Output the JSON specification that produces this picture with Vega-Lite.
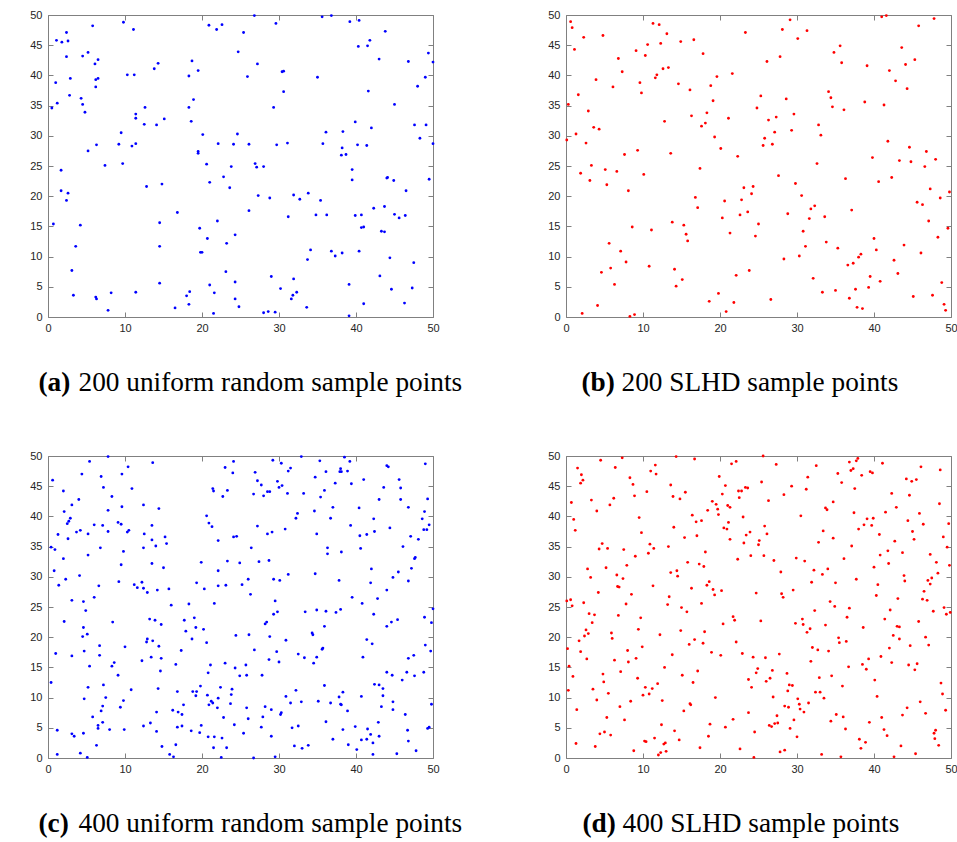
{
"$schema": "https://vega.github.io/schema/vega-lite/v6.json",
"background": "white",
"padding": {"left": 29, "top": 8, "right": 0, "bottom": 2},
"config": {
 "view": {"stroke": "#808080", "strokeWidth": 1},
 "axis": {"domain": false, "grid": false, "tickColor": "#808080", "tickSize": -5, "tickWidth": 1,
  "labelFont": "Liberation Sans", "labelFontSize": 11, "labelColor": "#262626", "labelFlush": false, "labelOverlap": false,
  "titleFont": "Liberation Serif", "titleFontSize": 27.3, "titleFontWeight": "normal", "titleColor": "black",
  "titleAlign": "left", "titleBaseline": "alphabetic", "titleAngle": 0},
 "axisX": {"labelPadding": 10},
 "axisY": {"labelPadding": 11}
},
"datasets": {
"a": [
{"x":0.5,"y":34.6},{"x":1.0,"y":38.8},{"x":1.1,"y":45.8},{"x":1.2,"y":35.4},{"x":1.8,"y":45.5},{"x":2.4,"y":47.1},{"x":2.4,"y":43.1},{"x":2.6,"y":45.7},{"x":2.8,"y":36.7},{"x":2.9,"y":39.5},{"x":4.3,"y":36.2},{"x":4.5,"y":43.2},{"x":4.5,"y":35.2},{"x":4.8,"y":33.9},{"x":5.2,"y":43.8},{"x":5.8,"y":48.2},{"x":6.1,"y":41.9},{"x":6.2,"y":39.3},{"x":6.2,"y":38.1},{"x":6.5,"y":42.6},{"x":6.5,"y":39.5},{"x":9.8,"y":48.8},{"x":10.3,"y":40.1},{"x":11.1,"y":47.6},{"x":11.2,"y":40.1},{"x":11.4,"y":33.6},{"x":12.6,"y":34.7},{"x":13.8,"y":41.1},{"x":14.3,"y":42.0},{"x":18.3,"y":39.9},{"x":18.3,"y":34.7},{"x":18.7,"y":42.4},{"x":18.9,"y":36.0},{"x":19.5,"y":40.8},{"x":20.9,"y":48.3},{"x":21.9,"y":47.6},{"x":22.6,"y":48.4},{"x":24.7,"y":43.9},{"x":25.4,"y":47.1},{"x":25.9,"y":39.8},{"x":26.8,"y":49.9},{"x":27.2,"y":41.9},{"x":29.3,"y":34.7},{"x":29.6,"y":48.6},{"x":30.4,"y":40.6},{"x":30.6,"y":40.7},{"x":30.6,"y":37.3},{"x":35.0,"y":39.7},{"x":35.6,"y":49.7},{"x":36.8,"y":49.9},{"x":39.2,"y":48.9},{"x":40.3,"y":44.8},{"x":40.4,"y":49.1},{"x":41.5,"y":44.9},{"x":41.6,"y":37.4},{"x":41.8,"y":45.8},{"x":43.0,"y":42.7},{"x":43.8,"y":47.3},{"x":45.0,"y":35.2},{"x":46.8,"y":42.3},{"x":48.0,"y":38.2},{"x":49.0,"y":39.7},{"x":49.4,"y":43.7},{"x":50.0,"y":42.2},
{"x":1.7,"y":24.3},{"x":1.7,"y":20.9},{"x":2.4,"y":19.3},{"x":2.6,"y":20.5},{"x":5.2,"y":27.5},{"x":6.3,"y":28.5},{"x":7.4,"y":25.1},{"x":9.2,"y":28.6},{"x":9.5,"y":30.5},{"x":9.7,"y":25.4},{"x":10.9,"y":28.3},{"x":11.4,"y":32.9},{"x":11.4,"y":28.7},{"x":12.5,"y":31.9},{"x":12.8,"y":21.6},{"x":14.1,"y":31.8},{"x":14.8,"y":22.0},{"x":15.1,"y":32.8},{"x":16.8,"y":17.3},{"x":18.6,"y":32.4},{"x":19.5,"y":27.4},{"x":19.5,"y":27.1},{"x":20.1,"y":30.2},{"x":20.6,"y":25.3},{"x":21.0,"y":22.3},{"x":22.1,"y":28.7},{"x":22.8,"y":23.2},{"x":23.6,"y":21.4},{"x":23.8,"y":24.9},{"x":24.1,"y":28.6},{"x":24.6,"y":30.3},{"x":26.1,"y":28.6},{"x":26.1,"y":17.6},{"x":26.9,"y":25.4},{"x":27.1,"y":24.8},{"x":27.3,"y":20.1},{"x":28.0,"y":24.9},{"x":28.8,"y":19.7},{"x":29.7,"y":28.5},{"x":31.1,"y":28.8},{"x":31.2,"y":16.6},{"x":31.9,"y":20.2},{"x":32.7,"y":19.5},{"x":33.8,"y":20.5},{"x":34.8,"y":16.9},{"x":35.4,"y":19.3},{"x":35.7,"y":28.7},{"x":36.1,"y":30.6},{"x":36.2,"y":16.9},{"x":38.1,"y":26.8},{"x":38.2,"y":28.0},{"x":38.3,"y":30.7},{"x":38.7,"y":26.9},{"x":39.5,"y":24.4},{"x":39.5,"y":22.7},{"x":39.9,"y":16.8},{"x":39.9,"y":32.3},{"x":40.2,"y":28.5},{"x":40.7,"y":16.9},{"x":41.4,"y":28.4},{"x":42.0,"y":31.3},{"x":42.3,"y":18.0},{"x":43.7,"y":18.3},{"x":44.0,"y":23.0},{"x":44.1,"y":23.1},{"x":44.9,"y":22.6},{"x":45.0,"y":17.0},{"x":45.6,"y":16.4},{"x":46.4,"y":16.8},{"x":46.5,"y":20.9},{"x":47.6,"y":31.8},{"x":48.3,"y":29.6},{"x":49.1,"y":31.8},{"x":49.5,"y":22.8},{"x":50.0,"y":28.7},
{"x":0.7,"y":15.4},{"x":3.1,"y":7.7},{"x":3.3,"y":3.6},{"x":3.6,"y":11.7},{"x":4.2,"y":15.2},{"x":6.2,"y":3.3},{"x":6.3,"y":3.0},{"x":7.8,"y":1.1},{"x":8.2,"y":4.0},{"x":11.4,"y":4.1},{"x":14.5,"y":15.6},{"x":14.5,"y":11.7},{"x":14.5,"y":5.6},{"x":16.5,"y":1.5},{"x":18.0,"y":3.5},{"x":18.3,"y":2.1},{"x":18.4,"y":4.2},{"x":19.7,"y":14.7},{"x":19.8,"y":10.7},{"x":20.0,"y":10.7},{"x":20.7,"y":13.0},{"x":21.0,"y":5.3},{"x":21.5,"y":0.6},{"x":21.6,"y":4.0},{"x":22.0,"y":15.9},{"x":23.1,"y":7.5},{"x":23.2,"y":12.2},{"x":24.3,"y":13.6},{"x":24.3,"y":5.8},{"x":24.3,"y":3.0},{"x":24.8,"y":1.7},{"x":28.0,"y":0.7},{"x":28.6,"y":0.9},{"x":29.0,"y":6.7},{"x":29.5,"y":0.8},{"x":30.2,"y":4.7},{"x":31.6,"y":3.0},{"x":31.8,"y":3.6},{"x":31.9,"y":6.3},{"x":32.3,"y":4.1},{"x":33.6,"y":1.6},{"x":33.7,"y":9.5},{"x":34.1,"y":11.1},{"x":36.8,"y":10.9},{"x":37.3,"y":10.1},{"x":38.2,"y":10.6},{"x":39.1,"y":0.2},{"x":39.1,"y":5.4},{"x":40.4,"y":10.9},{"x":40.7,"y":14.8},{"x":41.0,"y":14.9},{"x":41.0,"y":2.2},{"x":43.1,"y":6.8},{"x":43.3,"y":14.2},{"x":43.7,"y":14.1},{"x":44.4,"y":9.8},{"x":44.6,"y":4.6},{"x":46.3,"y":2.3},{"x":47.3,"y":4.8},{"x":47.5,"y":9.0}
],
"b": [
{"x":0.3,"y":35.2},{"x":0.6,"y":48.9},{"x":0.8,"y":47.9},{"x":1.1,"y":44.3},{"x":1.6,"y":36.8},{"x":2.3,"y":46.3},{"x":2.9,"y":34.1},{"x":3.9,"y":39.3},{"x":4.8,"y":46.6},{"x":6.1,"y":38.1},{"x":6.8,"y":42.8},{"x":7.3,"y":40.6},{"x":9.1,"y":44.1},{"x":9.6,"y":38.8},{"x":9.8,"y":37.1},{"x":10.3,"y":43.3},{"x":10.6,"y":45.1},{"x":11.3,"y":48.6},{"x":11.6,"y":39.6},{"x":11.8,"y":40.1},{"x":12.1,"y":48.4},{"x":12.3,"y":45.3},{"x":12.6,"y":41.1},{"x":13.1,"y":46.9},{"x":13.3,"y":41.3},{"x":14.6,"y":38.6},{"x":14.9,"y":45.6},{"x":16.1,"y":37.6},{"x":16.3,"y":33.3},{"x":16.6,"y":45.9},{"x":17.8,"y":43.6},{"x":18.3,"y":33.8},{"x":18.8,"y":38.3},{"x":19.1,"y":35.8},{"x":19.6,"y":39.8},{"x":21.6,"y":40.3},{"x":23.3,"y":47.1},{"x":24.8,"y":34.6},{"x":25.3,"y":36.6},{"x":26.1,"y":42.3},{"x":27.3,"y":33.1},{"x":27.8,"y":43.1},{"x":28.1,"y":47.6},{"x":28.6,"y":36.1},{"x":29.1,"y":49.2},{"x":29.6,"y":33.6},{"x":30.1,"y":46.1},{"x":31.3,"y":47.4},{"x":34.1,"y":37.3},{"x":34.4,"y":36.3},{"x":34.6,"y":34.8},{"x":34.8,"y":43.8},{"x":35.6,"y":44.9},{"x":35.8,"y":42.1},{"x":36.1,"y":34.3},{"x":38.8,"y":35.6},{"x":39.1,"y":41.6},{"x":41.0,"y":49.7},{"x":41.3,"y":35.1},{"x":41.6,"y":49.9},{"x":42.0,"y":40.8},{"x":42.8,"y":39.1},{"x":43.6,"y":44.6},{"x":44.1,"y":41.8},{"x":44.3,"y":37.8},{"x":45.3,"y":42.6},{"x":45.8,"y":48.2},{"x":47.8,"y":49.4},
{"x":0.1,"y":29.3},{"x":1.3,"y":30.3},{"x":1.9,"y":23.8},{"x":2.6,"y":28.8},{"x":3.1,"y":22.6},{"x":3.3,"y":25.1},{"x":3.6,"y":31.4},{"x":4.3,"y":31.1},{"x":5.1,"y":24.4},{"x":5.3,"y":21.9},{"x":6.6,"y":24.1},{"x":7.6,"y":26.9},{"x":8.1,"y":20.9},{"x":9.3,"y":27.6},{"x":10.1,"y":23.6},{"x":12.8,"y":32.4},{"x":13.6,"y":27.1},{"x":16.8,"y":19.8},{"x":17.1,"y":18.1},{"x":17.4,"y":24.6},{"x":17.6,"y":31.6},{"x":18.1,"y":32.1},{"x":19.3,"y":29.8},{"x":20.1,"y":27.9},{"x":20.3,"y":16.4},{"x":20.6,"y":19.2},{"x":21.1,"y":32.9},{"x":22.3,"y":26.6},{"x":22.6,"y":16.9},{"x":22.8,"y":19.4},{"x":23.1,"y":21.4},{"x":23.6,"y":17.4},{"x":24.1,"y":20.4},{"x":24.3,"y":21.6},{"x":25.6,"y":28.4},{"x":25.8,"y":29.6},{"x":26.3,"y":32.6},{"x":26.8,"y":28.6},{"x":27.1,"y":30.6},{"x":27.6,"y":23.4},{"x":28.8,"y":17.1},{"x":29.3,"y":30.9},{"x":29.8,"y":22.1},{"x":30.6,"y":20.1},{"x":31.6,"y":16.3},{"x":31.8,"y":17.9},{"x":32.3,"y":18.4},{"x":32.6,"y":25.4},{"x":32.8,"y":31.8},{"x":33.1,"y":30.1},{"x":33.6,"y":16.6},{"x":36.3,"y":22.9},{"x":37.1,"y":17.7},{"x":39.8,"y":26.4},{"x":40.6,"y":22.4},{"x":41.8,"y":29.1},{"x":42.3,"y":23.1},{"x":43.3,"y":25.9},{"x":44.6,"y":28.1},{"x":44.8,"y":25.7},{"x":45.6,"y":19.0},{"x":46.3,"y":18.6},{"x":46.6,"y":24.9},{"x":46.8,"y":27.4},{"x":47.3,"y":21.2},{"x":48.0,"y":26.1},{"x":48.6,"y":19.7},{"x":49.8,"y":20.7},
{"x":2.1,"y":0.6},{"x":4.1,"y":1.9},{"x":4.6,"y":7.4},{"x":5.6,"y":12.2},{"x":5.8,"y":8.1},{"x":6.3,"y":5.4},{"x":7.1,"y":10.9},{"x":7.8,"y":9.1},{"x":8.3,"y":0.1},{"x":8.6,"y":14.9},{"x":8.9,"y":0.4},{"x":10.8,"y":8.4},{"x":11.1,"y":14.4},{"x":13.8,"y":15.7},{"x":14.1,"y":7.9},{"x":14.3,"y":5.1},{"x":15.1,"y":6.2},{"x":15.3,"y":15.2},{"x":15.6,"y":13.7},{"x":15.8,"y":12.6},{"x":18.6,"y":2.6},{"x":19.8,"y":3.9},{"x":20.8,"y":0.9},{"x":21.3,"y":13.9},{"x":21.8,"y":2.4},{"x":22.1,"y":6.9},{"x":23.8,"y":7.7},{"x":24.6,"y":13.4},{"x":25.0,"y":15.4},{"x":26.6,"y":2.9},{"x":28.3,"y":9.6},{"x":30.3,"y":10.1},{"x":30.8,"y":14.2},{"x":31.1,"y":11.7},{"x":32.1,"y":6.4},{"x":33.3,"y":4.1},{"x":33.8,"y":12.4},{"x":35.0,"y":4.4},{"x":35.3,"y":11.4},{"x":36.6,"y":8.6},{"x":36.8,"y":3.1},{"x":37.3,"y":8.9},{"x":37.6,"y":4.6},{"x":37.8,"y":1.6},{"x":38.0,"y":9.9},{"x":38.3,"y":10.4},{"x":38.5,"y":1.4},{"x":39.3,"y":4.9},{"x":39.5,"y":6.7},{"x":40.0,"y":13.0},{"x":40.3,"y":11.1},{"x":40.8,"y":5.9},{"x":42.6,"y":9.4},{"x":43.1,"y":7.2},{"x":43.9,"y":11.9},{"x":45.1,"y":3.4},{"x":46.1,"y":10.6},{"x":47.1,"y":15.9},{"x":47.6,"y":3.6},{"x":48.3,"y":13.2},{"x":48.8,"y":5.7},{"x":49.1,"y":2.1},{"x":49.3,"y":1.1},{"x":49.6,"y":14.7}
],
"c": [
{"x":0.4,"y":34.9},{"x":0.6,"y":46.0},{"x":0.9,"y":34.5},{"x":1.3,"y":37.0},{"x":2.0,"y":44.2},{"x":2.1,"y":40.8},{"x":2.5,"y":38.8},{"x":2.7,"y":39.2},{"x":2.9,"y":39.7},{"x":2.6,"y":36.3},{"x":3.1,"y":41.9},{"x":3.7,"y":37.4},{"x":4.0,"y":42.8},{"x":4.2,"y":37.7},{"x":4.4,"y":47.0},{"x":5.2,"y":37.1},{"x":5.2,"y":33.6},{"x":5.4,"y":49.1},{"x":6.0,"y":38.6},{"x":6.8,"y":34.8},{"x":6.9,"y":46.6},{"x":7.1,"y":38.5},{"x":7.2,"y":44.8},{"x":7.8,"y":41.0},{"x":7.8,"y":37.5},{"x":7.8,"y":49.9},{"x":8.3,"y":43.3},{"x":9.1,"y":39.0},{"x":9.5,"y":38.7},{"x":9.6,"y":41.6},{"x":9.6,"y":47.0},{"x":9.8,"y":34.2},{"x":10.3,"y":37.4},{"x":10.5,"y":37.7},{"x":10.4,"y":48.2},{"x":10.9,"y":44.6},{"x":12.4,"y":41.9},{"x":12.4,"y":34.8},{"x":12.5,"y":37.1},{"x":13.5,"y":38.5},{"x":13.5,"y":36.1},{"x":13.6,"y":48.9},{"x":14.0,"y":35.1},{"x":14.4,"y":41.3},{"x":15.2,"y":36.6},{"x":15.4,"y":35.5},{"x":20.6,"y":40.1},{"x":20.9,"y":38.9},{"x":21.3,"y":38.3},{"x":21.4,"y":44.6},{"x":21.5,"y":44.2},{"x":22.1,"y":36.0},{"x":22.7,"y":43.3},{"x":23.0,"y":48.1},{"x":23.3,"y":44.3},{"x":24.0,"y":47.2},{"x":24.1,"y":49.1},{"x":24.1,"y":36.6},{"x":24.5,"y":36.7},{"x":26.4,"y":34.8},{"x":26.7,"y":43.7},{"x":26.9,"y":47.3},{"x":27.2,"y":38.4},{"x":27.2,"y":45.9},{"x":27.7,"y":45.2},{"x":28.0,"y":43.4},{"x":28.5,"y":44.1},{"x":28.8,"y":44.1},{"x":28.5,"y":37.1},{"x":29.1,"y":37.4},{"x":29.2,"y":49.3},{"x":29.8,"y":45.8},{"x":30.0,"y":44.8},{"x":30.3,"y":48.8},{"x":30.4,"y":45.1},{"x":30.8,"y":37.9},{"x":31.2,"y":47.5},{"x":31.1,"y":43.8},{"x":31.5,"y":48.0},{"x":32.2,"y":39.7},{"x":32.4,"y":40.5},{"x":32.9,"y":49.9},{"x":33.2,"y":43.8},{"x":34.6,"y":40.9},{"x":34.7,"y":46.5},{"x":34.9,"y":37.1},{"x":35.3,"y":49.2},{"x":35.4,"y":43.2},{"x":35.9,"y":44.3},{"x":36.1,"y":47.4},{"x":36.3,"y":34.8},{"x":36.3,"y":33.8},{"x":36.7,"y":39.7},{"x":37.0,"y":41.5},{"x":37.3,"y":45.5},{"x":37.9,"y":47.4},{"x":38.0,"y":47.9},{"x":38.1,"y":47.4},{"x":38.1,"y":34.1},{"x":38.5,"y":49.8},{"x":38.9,"y":47.5},{"x":39.2,"y":49.1},{"x":39.3,"y":38.5},{"x":39.4,"y":45.4},{"x":40.4,"y":41.4},{"x":40.5,"y":36.8},{"x":40.6,"y":34.7},{"x":41.0,"y":46.1},{"x":41.4,"y":37.0},{"x":42.3,"y":39.6},{"x":42.4,"y":37.5},{"x":43.0,"y":42.8},{"x":43.6,"y":44.8},{"x":44.0,"y":48.4},{"x":44.2,"y":48.2},{"x":44.4,"y":38.1},{"x":45.6,"y":46.1},{"x":45.8,"y":44.7},{"x":45.8,"y":42.8},{"x":46.1,"y":35.0},{"x":46.8,"y":41.5},{"x":47.1,"y":36.7},{"x":48.1,"y":36.2},{"x":48.6,"y":39.6},{"x":48.8,"y":37.8},{"x":48.9,"y":40.8},{"x":49.0,"y":48.7},{"x":49.2,"y":37.8},{"x":49.3,"y":42.9},{"x":49.5,"y":38.6},
{"x":0.8,"y":31.0},{"x":1.0,"y":17.3},{"x":1.4,"y":28.6},{"x":2.0,"y":33.0},{"x":2.1,"y":22.6},{"x":2.3,"y":29.6},{"x":3.1,"y":26.1},{"x":3.1,"y":16.9},{"x":4.1,"y":30.2},{"x":4.5,"y":20.1},{"x":4.6,"y":21.6},{"x":4.6,"y":25.9},{"x":4.7,"y":17.7},{"x":4.9,"y":24.4},{"x":5.1,"y":20.5},{"x":6.0,"y":26.6},{"x":6.6,"y":28.5},{"x":6.7,"y":18.6},{"x":6.7,"y":17.0},{"x":8.4,"y":22.5},{"x":9.2,"y":29.2},{"x":9.5,"y":32.0},{"x":10.0,"y":18.4},{"x":11.2,"y":28.7},{"x":11.6,"y":28.2},{"x":12.2,"y":29.1},{"x":12.4,"y":28.1},{"x":12.9,"y":27.4},{"x":12.8,"y":19.2},{"x":12.9,"y":19.7},{"x":13.2,"y":23.0},{"x":13.5,"y":32.2},{"x":13.4,"y":16.7},{"x":13.6,"y":19.4},{"x":13.9,"y":22.8},{"x":14.2,"y":27.8},{"x":14.4,"y":18.5},{"x":14.7,"y":22.1},{"x":14.7,"y":16.5},{"x":15.0,"y":31.5},{"x":15.7,"y":28.0},{"x":16.0,"y":25.3},{"x":17.3,"y":17.8},{"x":17.7,"y":22.8},{"x":17.9,"y":21.0},{"x":18.3,"y":25.5},{"x":18.7,"y":19.7},{"x":19.0,"y":23.2},{"x":19.2,"y":21.6},{"x":19.3,"y":29.0},{"x":19.9,"y":32.4},{"x":20.2,"y":21.3},{"x":20.3,"y":28.0},{"x":20.6,"y":19.1},{"x":21.6,"y":25.6},{"x":22.1,"y":31.0},{"x":22.1,"y":28.5},{"x":23.1,"y":28.6},{"x":23.3,"y":32.6},{"x":24.4,"y":20.3},{"x":24.9,"y":32.3},{"x":25.2,"y":28.7},{"x":26.0,"y":29.6},{"x":26.1,"y":20.4},{"x":26.3,"y":27.1},{"x":26.8,"y":17.9},{"x":27.4,"y":32.5},{"x":28.2,"y":22.2},{"x":28.4,"y":22.5},{"x":28.7,"y":32.7},{"x":28.8,"y":20.1},{"x":29.3,"y":23.8},{"x":29.3,"y":29.6},{"x":29.5,"y":26.0},{"x":29.7,"y":17.6},{"x":29.8,"y":24.2},{"x":30.1,"y":29.4},{"x":30.9,"y":19.5},{"x":31.2,"y":30.4},{"x":32.5,"y":17.2},{"x":33.3,"y":16.6},{"x":33.4,"y":24.2},{"x":34.3,"y":20.7},{"x":34.4,"y":20.4},{"x":34.7,"y":30.5},{"x":34.9,"y":24.5},{"x":34.9,"y":16.7},{"x":35.6,"y":18.0},{"x":35.7,"y":18.2},{"x":35.9,"y":21.8},{"x":36.1,"y":24.3},{"x":37.4,"y":24.1},{"x":37.8,"y":29.4},{"x":38.0,"y":24.6},{"x":39.5,"y":26.6},{"x":40.8,"y":25.6},{"x":40.9,"y":16.7},{"x":41.4,"y":19.6},{"x":41.9,"y":29.0},{"x":42.0,"y":31.3},{"x":42.1,"y":18.9},{"x":42.3,"y":23.8},{"x":42.8,"y":26.4},{"x":44.0,"y":27.8},{"x":44.0,"y":21.8},{"x":44.6,"y":22.5},{"x":44.8,"y":29.9},{"x":45.4,"y":22.9},{"x":45.5,"y":30.8},{"x":46.8,"y":29.3},{"x":46.8,"y":16.5},{"x":47.2,"y":31.4},{"x":47.5,"y":17.0},{"x":47.6,"y":33.0},{"x":47.7,"y":33.2},{"x":48.9,"y":23.3},{"x":49.0,"y":18.7},{"x":49.7,"y":17.7},{"x":49.8,"y":22.4},{"x":50.0,"y":24.7},
{"x":0.4,"y":12.5},{"x":1.2,"y":4.6},{"x":1.2,"y":0.6},{"x":3.1,"y":4.0},{"x":3.4,"y":3.6},{"x":4.2,"y":0.8},{"x":4.6,"y":4.1},{"x":4.7,"y":9.8},{"x":5.1,"y":0.1},{"x":5.2,"y":11.7},{"x":5.4,"y":15.2},{"x":5.8,"y":6.8},{"x":6.3,"y":2.1},{"x":6.5,"y":5.4},{"x":6.5,"y":4.9},{"x":6.9,"y":7.8},{"x":7.1,"y":8.6},{"x":7.1,"y":5.9},{"x":7.2,"y":12.1},{"x":7.5,"y":10.0},{"x":8.0,"y":4.7},{"x":8.3,"y":15.2},{"x":8.6,"y":15.8},{"x":9.1,"y":13.7},{"x":9.4,"y":8.4},{"x":9.8,"y":9.5},{"x":9.9,"y":4.7},{"x":10.8,"y":11.3},{"x":12.2,"y":16.1},{"x":12.4,"y":5.3},{"x":13.3,"y":5.8},{"x":14.1,"y":7.6},{"x":14.1,"y":4.4},{"x":14.3,"y":11.5},{"x":14.6,"y":14.4},{"x":14.8,"y":1.9},{"x":15.8,"y":0.6},{"x":16.2,"y":7.9},{"x":16.3,"y":0.2},{"x":16.6,"y":2.2},{"x":16.6,"y":15.5},{"x":16.8,"y":11.0},{"x":16.9,"y":7.6},{"x":16.8,"y":5.1},{"x":17.4,"y":5.3},{"x":17.4,"y":7.2},{"x":17.6,"y":8.8},{"x":18.6,"y":4.5},{"x":18.8,"y":11.0},{"x":19.2,"y":10.3},{"x":19.3,"y":11.0},{"x":19.7,"y":4.2},{"x":19.8,"y":11.9},{"x":19.9,"y":5.4},{"x":20.7,"y":10.4},{"x":20.8,"y":3.5},{"x":20.8,"y":14.1},{"x":20.9,"y":8.8},{"x":21.1,"y":15.4},{"x":21.2,"y":9.4},{"x":21.4,"y":9.1},{"x":21.5,"y":1.7},{"x":21.6,"y":3.5},{"x":22.0,"y":8.3},{"x":22.1,"y":9.9},{"x":22.4,"y":11.7},{"x":22.5,"y":0.1},{"x":22.6,"y":3.3},{"x":22.8,"y":6.7},{"x":23.0,"y":15.7},{"x":23.2,"y":1.7},{"x":23.7,"y":9.0},{"x":23.8,"y":10.5},{"x":23.9,"y":11.4},{"x":24.2,"y":5.5},{"x":24.3,"y":14.9},{"x":24.9,"y":13.6},{"x":25.4,"y":4.1},{"x":25.7,"y":15.4},{"x":25.8,"y":13.7},{"x":25.8,"y":8.3},{"x":26.0,"y":6.5},{"x":26.7,"y":0.0},{"x":27.7,"y":5.1},{"x":27.8,"y":13.7},{"x":27.9,"y":6.8},{"x":28.2,"y":8.5},{"x":28.7,"y":16.3},{"x":29.0,"y":8.0},{"x":29.0,"y":3.6},{"x":29.5,"y":0.2},{"x":30.0,"y":15.9},{"x":30.2,"y":7.2},{"x":30.3,"y":7.5},{"x":30.9,"y":10.2},{"x":31.5,"y":9.1},{"x":31.7,"y":5.0},{"x":32.0,"y":2.0},{"x":32.2,"y":11.2},{"x":32.5,"y":5.3},{"x":32.9,"y":9.3},{"x":33.0,"y":1.6},{"x":33.8,"y":2.1},{"x":34.5,"y":15.7},{"x":35.1,"y":9.4},{"x":35.9,"y":12.0},{"x":36.1,"y":6.0},{"x":36.7,"y":9.1},{"x":37.0,"y":3.1},{"x":37.8,"y":10.1},{"x":38.0,"y":8.9},{"x":38.1,"y":8.8},{"x":38.3,"y":10.9},{"x":38.3,"y":4.7},{"x":38.9,"y":7.8},{"x":39.0,"y":2.2},{"x":39.9,"y":5.2},{"x":40.1,"y":1.4},{"x":40.7,"y":3.0},{"x":40.7,"y":10.2},{"x":41.4,"y":3.1},{"x":41.5,"y":4.8},{"x":41.9,"y":3.9},{"x":42.2,"y":0.6},{"x":42.2,"y":2.5},{"x":42.4,"y":12.2},{"x":42.9,"y":5.9},{"x":43.0,"y":12.1},{"x":43.0,"y":3.6},{"x":43.3,"y":8.5},{"x":43.5,"y":11.5},{"x":43.5,"y":10.3},{"x":44.0,"y":14.2},{"x":44.7,"y":13.7},{"x":44.8,"y":9.3},{"x":44.8,"y":8.0},{"x":45.3,"y":0.7},{"x":46.0,"y":12.9},{"x":46.4,"y":7.2},{"x":46.6,"y":14.2},{"x":46.7,"y":4.6},{"x":46.8,"y":2.8},{"x":47.6,"y":13.6},{"x":47.8,"y":1.2},{"x":48.8,"y":14.2},{"x":49.3,"y":4.9},{"x":49.5,"y":5.1},{"x":49.8,"y":8.9}
],
"d": [
{"x":0.7,"y":42.3},{"x":1.0,"y":39.5},{"x":1.2,"y":37.7},{"x":1.5,"y":48.0},{"x":1.9,"y":45.5},{"x":2.0,"y":46.9},{"x":2.2,"y":46.0},{"x":3.3,"y":42.7},{"x":4.0,"y":40.9},{"x":4.3,"y":34.6},{"x":4.5,"y":49.3},{"x":4.7,"y":35.5},{"x":5.4,"y":34.7},{"x":5.7,"y":41.9},{"x":6.2,"y":43.0},{"x":6.4,"y":48.1},{"x":7.3,"y":49.7},{"x":7.5,"y":34.5},{"x":8.3,"y":46.4},{"x":8.7,"y":45.3},{"x":8.9,"y":43.4},{"x":9.0,"y":33.4},{"x":9.5,"y":39.8},{"x":9.8,"y":37.3},{"x":10.5,"y":44.1},{"x":10.7,"y":33.9},{"x":10.9,"y":35.4},{"x":11.0,"y":47.5},{"x":11.4,"y":34.7},{"x":11.6,"y":48.5},{"x":11.7,"y":47.0},{"x":13.3,"y":35.0},{"x":13.6,"y":45.2},{"x":13.9,"y":43.3},{"x":14.0,"y":38.2},{"x":14.3,"y":49.9},{"x":14.8,"y":42.9},{"x":15.4,"y":36.5},{"x":15.5,"y":44.0},{"x":16.4,"y":40.2},{"x":16.7,"y":49.5},{"x":16.9,"y":39.1},{"x":17.0,"y":36.8},{"x":17.6,"y":39.3},{"x":18.1,"y":34.1},{"x":18.4,"y":41.0},{"x":19.0,"y":42.5},{"x":19.5,"y":42.0},{"x":19.7,"y":41.2},{"x":19.8,"y":40.3},{"x":19.9,"y":46.6},{"x":20.3,"y":43.7},{"x":20.5,"y":38.1},{"x":20.7,"y":45.1},{"x":20.9,"y":37.9},{"x":21.0,"y":41.8},{"x":21.1,"y":39.0},{"x":21.3,"y":36.2},{"x":21.3,"y":41.5},{"x":21.5,"y":48.7},{"x":22.1,"y":49.1},{"x":22.4,"y":44.2},{"x":22.5,"y":43.1},{"x":22.8,"y":44.2},{"x":23.0,"y":39.9},{"x":23.1,"y":35.6},{"x":23.3,"y":44.8},{"x":23.4,"y":36.9},{"x":23.6,"y":44.7},{"x":23.9,"y":37.4},{"x":24.0,"y":33.5},{"x":25.0,"y":35.3},{"x":25.1,"y":36.0},{"x":25.4,"y":45.7},{"x":25.6,"y":50.0},{"x":25.7,"y":33.5},{"x":25.8,"y":38.4},{"x":26.1,"y":37.1},{"x":26.3,"y":42.6},{"x":27.3,"y":48.6},{"x":28.3,"y":43.6},{"x":29.3,"y":45.0},{"x":30.5,"y":40.1},{"x":31.2,"y":44.5},{"x":31.4,"y":46.5},{"x":32.5,"y":48.4},{"x":32.8,"y":35.7},{"x":33.4,"y":37.6},{"x":33.7,"y":41.4},{"x":33.9,"y":41.1},{"x":34.7,"y":42.4},{"x":34.7,"y":36.4},{"x":35.3,"y":47.1},{"x":35.8,"y":45.6},{"x":36.8,"y":49.0},{"x":37.0,"y":47.6},{"x":37.1,"y":35.1},{"x":37.3,"y":47.9},{"x":37.4,"y":40.6},{"x":37.5,"y":44.6},{"x":37.7,"y":49.2},{"x":37.9,"y":49.6},{"x":38.0,"y":37.9},{"x":38.4,"y":46.8},{"x":38.7,"y":38.6},{"x":39.1,"y":39.6},{"x":39.5,"y":47.4},{"x":39.7,"y":38.5},{"x":39.8,"y":47.2},{"x":39.9,"y":39.7},{"x":40.7,"y":37.0},{"x":40.8,"y":33.6},{"x":41.1,"y":48.8},{"x":41.5,"y":40.7},{"x":41.8,"y":34.3},{"x":42.3,"y":43.8},{"x":42.7,"y":35.9},{"x":42.9,"y":41.5},{"x":43.7,"y":34.0},{"x":44.2,"y":46.2},{"x":44.4,"y":39.3},{"x":44.6,"y":43.5},{"x":44.9,"y":45.8},{"x":45.0,"y":37.5},{"x":45.2,"y":36.2},{"x":45.5,"y":46.1},{"x":45.9,"y":40.5},{"x":46.1,"y":48.2},{"x":46.4,"y":38.7},{"x":47.3,"y":33.7},{"x":48.5,"y":42.1},{"x":48.6,"y":47.7},{"x":49.0,"y":36.6},{"x":49.5,"y":34.9},{"x":49.7,"y":38.8},
{"x":0.1,"y":26.0},{"x":0.2,"y":18.1},{"x":0.6,"y":26.2},{"x":0.8,"y":25.2},{"x":1.7,"y":19.4},{"x":1.9,"y":17.6},{"x":2.3,"y":25.7},{"x":2.4,"y":20.2},{"x":2.6,"y":21.2},{"x":2.8,"y":31.3},{"x":2.9,"y":20.6},{"x":3.0,"y":23.9},{"x":3.2,"y":29.9},{"x":3.4,"y":22.4},{"x":3.7,"y":23.7},{"x":4.2,"y":27.4},{"x":5.2,"y":31.5},{"x":5.9,"y":20.7},{"x":6.0,"y":19.8},{"x":6.6,"y":30.3},{"x":6.7,"y":28.4},{"x":6.8,"y":23.6},{"x":6.9,"y":28.3},{"x":7.4,"y":29.7},{"x":7.8,"y":25.5},{"x":7.9,"y":31.9},{"x":8.0,"y":17.8},{"x":8.5,"y":27.1},{"x":9.4,"y":21.3},{"x":9.7,"y":23.2},{"x":9.9,"y":18.4},{"x":11.3,"y":28.5},{"x":12.2,"y":20.4},{"x":13.2,"y":25.4},{"x":13.4,"y":26.7},{"x":13.6,"y":30.7},{"x":13.8,"y":17.1},{"x":14.4,"y":31.0},{"x":14.5,"y":30.1},{"x":14.9,"y":21.1},{"x":15.0,"y":24.9},{"x":15.7,"y":24.2},{"x":15.8,"y":32.4},{"x":16.0,"y":18.8},{"x":16.3,"y":28.1},{"x":16.7,"y":19.6},{"x":17.3,"y":32.1},{"x":17.6,"y":25.6},{"x":17.8,"y":19.0},{"x":17.9,"y":31.7},{"x":18.0,"y":20.9},{"x":18.3,"y":28.6},{"x":18.6,"y":29.2},{"x":18.9,"y":17.5},{"x":19.1,"y":27.9},{"x":19.3,"y":27.0},{"x":20.1,"y":17.0},{"x":20.2,"y":27.7},{"x":20.4,"y":22.2},{"x":21.7,"y":23.4},{"x":21.9,"y":22.8},{"x":22.1,"y":19.2},{"x":22.3,"y":32.9},{"x":22.9,"y":17.3},{"x":24.3,"y":16.7},{"x":24.7,"y":27.3},{"x":25.3,"y":22.7},{"x":25.9,"y":16.6},{"x":27.0,"y":32.7},{"x":27.7,"y":17.2},{"x":27.9,"y":30.8},{"x":28.0,"y":27.2},{"x":28.2,"y":26.6},{"x":29.5,"y":27.8},{"x":29.8,"y":22.3},{"x":29.9,"y":33.1},{"x":30.7,"y":23.0},{"x":30.8,"y":22.1},{"x":31.0,"y":32.6},{"x":31.3,"y":20.8},{"x":31.7,"y":21.4},{"x":31.9,"y":29.1},{"x":32.0,"y":18.3},{"x":32.2,"y":31.1},{"x":32.3,"y":24.4},{"x":32.7,"y":17.9},{"x":33.3,"y":30.4},{"x":33.7,"y":22.0},{"x":34.0,"y":31.3},{"x":34.1,"y":17.7},{"x":34.3,"y":25.9},{"x":34.9,"y":25.1},{"x":35.0,"y":29.0},{"x":35.4,"y":19.9},{"x":35.5,"y":19.1},{"x":36.1,"y":33.0},{"x":36.4,"y":19.3},{"x":36.5,"y":23.3},{"x":36.8,"y":24.8},{"x":37.7,"y":29.6},{"x":38.6,"y":21.6},{"x":39.3,"y":16.4},{"x":40.0,"y":31.6},{"x":40.3,"y":26.9},{"x":40.5,"y":28.7},{"x":40.9,"y":16.8},{"x":41.4,"y":23.0},{"x":41.9,"y":32.2},{"x":42.0,"y":18.2},{"x":42.1,"y":24.5},{"x":42.5,"y":20.3},{"x":43.0,"y":21.8},{"x":43.1,"y":26.4},{"x":43.3,"y":21.7},{"x":43.3,"y":19.7},{"x":43.9,"y":30.2},{"x":44.0,"y":29.3},{"x":44.7,"y":18.6},{"x":45.8,"y":22.6},{"x":46.3,"y":26.3},{"x":46.5,"y":27.6},{"x":46.7,"y":20.0},{"x":46.9,"y":26.1},{"x":47.0,"y":29.4},{"x":47.1,"y":18.7},{"x":47.3,"y":28.8},{"x":47.5,"y":29.8},{"x":47.7,"y":24.3},{"x":48.1,"y":32.4},{"x":48.3,"y":30.6},{"x":49.1,"y":24.9},{"x":49.4,"y":23.8},{"x":49.8,"y":31.9},{"x":49.9,"y":24.1},
{"x":0.4,"y":15.2},{"x":0.3,"y":11.2},{"x":0.9,"y":13.5},{"x":1.3,"y":2.4},{"x":1.4,"y":8.0},{"x":2.7,"y":16.4},{"x":3.5,"y":11.4},{"x":3.8,"y":1.9},{"x":4.0,"y":9.6},{"x":4.4,"y":4.0},{"x":4.8,"y":13.9},{"x":4.9,"y":12.6},{"x":5.0,"y":4.3},{"x":5.3,"y":6.7},{"x":5.5,"y":10.7},{"x":5.8,"y":3.8},{"x":6.3,"y":16.2},{"x":7.0,"y":8.5},{"x":7.1,"y":14.3},{"x":7.6,"y":6.3},{"x":8.1,"y":15.9},{"x":8.4,"y":9.4},{"x":8.8,"y":1.2},{"x":9.1,"y":16.5},{"x":9.3,"y":13.2},{"x":10.0,"y":10.4},{"x":10.2,"y":2.8},{"x":10.3,"y":11.7},{"x":10.4,"y":2.7},{"x":10.8,"y":10.6},{"x":11.2,"y":11.5},{"x":11.5,"y":3.3},{"x":11.9,"y":12.3},{"x":12.0,"y":0.5},{"x":12.3,"y":0.9},{"x":12.4,"y":5.5},{"x":12.5,"y":9.5},{"x":12.7,"y":2.3},{"x":12.8,"y":15.0},{"x":12.9,"y":2.5},{"x":13.0,"y":1.1},{"x":14.1,"y":4.5},{"x":14.7,"y":3.0},{"x":15.1,"y":13.7},{"x":15.3,"y":7.8},{"x":16.1,"y":9.0},{"x":16.2,"y":8.8},{"x":16.5,"y":12.5},{"x":17.1,"y":14.4},{"x":17.4,"y":1.7},{"x":18.5,"y":3.6},{"x":18.7,"y":5.6},{"x":19.4,"y":10.0},{"x":20.7,"y":5.1},{"x":21.7,"y":6.4},{"x":22.6,"y":1.5},{"x":23.7,"y":7.5},{"x":23.7,"y":13.0},{"x":24.1,"y":11.7},{"x":24.4,"y":0.1},{"x":24.5,"y":4.3},{"x":24.7,"y":14.1},{"x":24.9,"y":14.8},{"x":26.0,"y":12.7},{"x":26.4,"y":5.4},{"x":26.5,"y":13.2},{"x":26.7,"y":5.2},{"x":26.8,"y":14.5},{"x":26.9,"y":10.1},{"x":27.1,"y":5.7},{"x":27.4,"y":7.0},{"x":27.5,"y":5.8},{"x":27.8,"y":1.0},{"x":28.4,"y":1.3},{"x":28.4,"y":8.6},{"x":28.7,"y":14.0},{"x":28.8,"y":11.1},{"x":28.9,"y":8.4},{"x":29.0,"y":12.1},{"x":29.1,"y":4.9},{"x":29.4,"y":12.0},{"x":29.6,"y":6.3},{"x":30.0,"y":3.5},{"x":30.1,"y":9.8},{"x":30.3,"y":8.9},{"x":30.4,"y":8.1},{"x":30.9,"y":7.6},{"x":31.5,"y":9.1},{"x":31.8,"y":16.0},{"x":32.4,"y":10.9},{"x":32.9,"y":13.3},{"x":33.0,"y":10.9},{"x":33.2,"y":0.6},{"x":33.5,"y":9.9},{"x":34.4,"y":6.1},{"x":34.5,"y":13.6},{"x":35.1,"y":7.2},{"x":35.7,"y":0.2},{"x":35.9,"y":11.9},{"x":36.0,"y":6.8},{"x":36.3,"y":4.8},{"x":36.7,"y":15.1},{"x":38.1,"y":3.1},{"x":38.3,"y":1.6},{"x":38.5,"y":15.5},{"x":38.9,"y":2.6},{"x":39.0,"y":14.7},{"x":39.4,"y":5.9},{"x":40.1,"y":12.9},{"x":40.4,"y":10.2},{"x":41.0,"y":6.7},{"x":41.3,"y":4.7},{"x":41.7,"y":3.7},{"x":42.3,"y":15.8},{"x":42.6,"y":0.2},{"x":43.5,"y":2.0},{"x":43.7,"y":7.1},{"x":44.3,"y":8.3},{"x":44.5,"y":15.4},{"x":45.3,"y":14.6},{"x":45.4,"y":0.7},{"x":45.6,"y":15.6},{"x":46.0,"y":9.3},{"x":46.7,"y":7.4},{"x":47.8,"y":4.1},{"x":47.9,"y":3.2},{"x":48.0,"y":4.6},{"x":48.4,"y":2.1},{"x":48.7,"y":12.4},{"x":48.9,"y":10.6},{"x":49.3,"y":7.9}
]
},
"bounds": "flush",
"columns": 2,
"spacing": {"row": 139, "column": 133},
"concat": [
{"width": 385, "height": 302, "data": {"name": "a"},
 "layer": [
  {"mark": {"type": "circle", "size": 8, "color": "#0000ff", "opacity": 1},
   "encoding": {
    "x": {"field": "x", "type": "quantitative", "scale": {"domain": [0, 50], "nice": false, "zero": false}, "axis": {"orient": "bottom", "values": [0,10,20,30,40,50], "title": "200 uniform random sample points", "titleX": 30, "titleY": 73}},
    "y": {"field": "y", "type": "quantitative", "scale": {"domain": [0, 50], "nice": false, "zero": false}, "axis": {"orient": "left", "values": [0,5,10,15,20,25,30,35,40,45,50], "title": null}}}},
  {"mark": {"type": "circle", "opacity": 0},
   "encoding": {
    "x": {"field": "x", "type": "quantitative", "axis": {"orient": "top", "labels": false, "values": [0,10,20,30,40,50], "title": "(a)", "titleFontWeight": "bold", "titleX": -10, "titleY": 375}},
    "y": {"field": "y", "type": "quantitative", "axis": {"orient": "right", "labels": false, "values": [0,5,10,15,20,25,30,35,40,45,50], "title": null}}}}
 ],
 "resolve": {"axis": {"x": "independent", "y": "independent"}}},
{"width": 385, "height": 302, "data": {"name": "b"},
 "layer": [
  {"mark": {"type": "circle", "size": 8, "color": "#ff0000", "opacity": 1},
   "encoding": {
    "x": {"field": "x", "type": "quantitative", "scale": {"domain": [0, 50], "nice": false, "zero": false}, "axis": {"orient": "bottom", "values": [0,10,20,30,40,50], "title": "200 SLHD sample points", "titleX": 55, "titleY": 73}},
    "y": {"field": "y", "type": "quantitative", "scale": {"domain": [0, 50], "nice": false, "zero": false}, "axis": {"orient": "left", "values": [0,5,10,15,20,25,30,35,40,45,50], "title": null}}}},
  {"mark": {"type": "circle", "opacity": 0},
   "encoding": {
    "x": {"field": "x", "type": "quantitative", "axis": {"orient": "top", "labels": false, "values": [0,10,20,30,40,50], "title": "(b)", "titleFontWeight": "bold", "titleX": 15, "titleY": 375}},
    "y": {"field": "y", "type": "quantitative", "axis": {"orient": "right", "labels": false, "values": [0,5,10,15,20,25,30,35,40,45,50], "title": null}}}}
 ],
 "resolve": {"axis": {"x": "independent", "y": "independent"}}},
{"width": 385, "height": 302, "data": {"name": "c"},
 "layer": [
  {"mark": {"type": "circle", "size": 8, "color": "#0000ff", "opacity": 1},
   "encoding": {
    "x": {"field": "x", "type": "quantitative", "scale": {"domain": [0, 50], "nice": false, "zero": false}, "axis": {"orient": "bottom", "values": [0,10,20,30,40,50], "title": "400 uniform random sample points", "titleX": 30, "titleY": 73}},
    "y": {"field": "y", "type": "quantitative", "scale": {"domain": [0, 50], "nice": false, "zero": false}, "axis": {"orient": "left", "values": [0,5,10,15,20,25,30,35,40,45,50], "title": null}}}},
  {"mark": {"type": "circle", "opacity": 0},
   "encoding": {
    "x": {"field": "x", "type": "quantitative", "axis": {"orient": "top", "labels": false, "values": [0,10,20,30,40,50], "title": "(c)", "titleFontWeight": "bold", "titleX": -10, "titleY": 375}},
    "y": {"field": "y", "type": "quantitative", "axis": {"orient": "right", "labels": false, "values": [0,5,10,15,20,25,30,35,40,45,50], "title": null}}}}
 ],
 "resolve": {"axis": {"x": "independent", "y": "independent"}}},
{"width": 385, "height": 302, "data": {"name": "d"},
 "layer": [
  {"mark": {"type": "circle", "size": 8, "color": "#ff0000", "opacity": 1},
   "encoding": {
    "x": {"field": "x", "type": "quantitative", "scale": {"domain": [0, 50], "nice": false, "zero": false}, "axis": {"orient": "bottom", "values": [0,10,20,30,40,50], "title": "400 SLHD sample points", "titleX": 56, "titleY": 73}},
    "y": {"field": "y", "type": "quantitative", "scale": {"domain": [0, 50], "nice": false, "zero": false}, "axis": {"orient": "left", "values": [0,5,10,15,20,25,30,35,40,45,50], "title": null}}}},
  {"mark": {"type": "circle", "opacity": 0},
   "encoding": {
    "x": {"field": "x", "type": "quantitative", "axis": {"orient": "top", "labels": false, "values": [0,10,20,30,40,50], "title": "(d)", "titleFontWeight": "bold", "titleX": 16, "titleY": 375}},
    "y": {"field": "y", "type": "quantitative", "axis": {"orient": "right", "labels": false, "values": [0,5,10,15,20,25,30,35,40,45,50], "title": null}}}}
 ],
 "resolve": {"axis": {"x": "independent", "y": "independent"}}}
]
}
